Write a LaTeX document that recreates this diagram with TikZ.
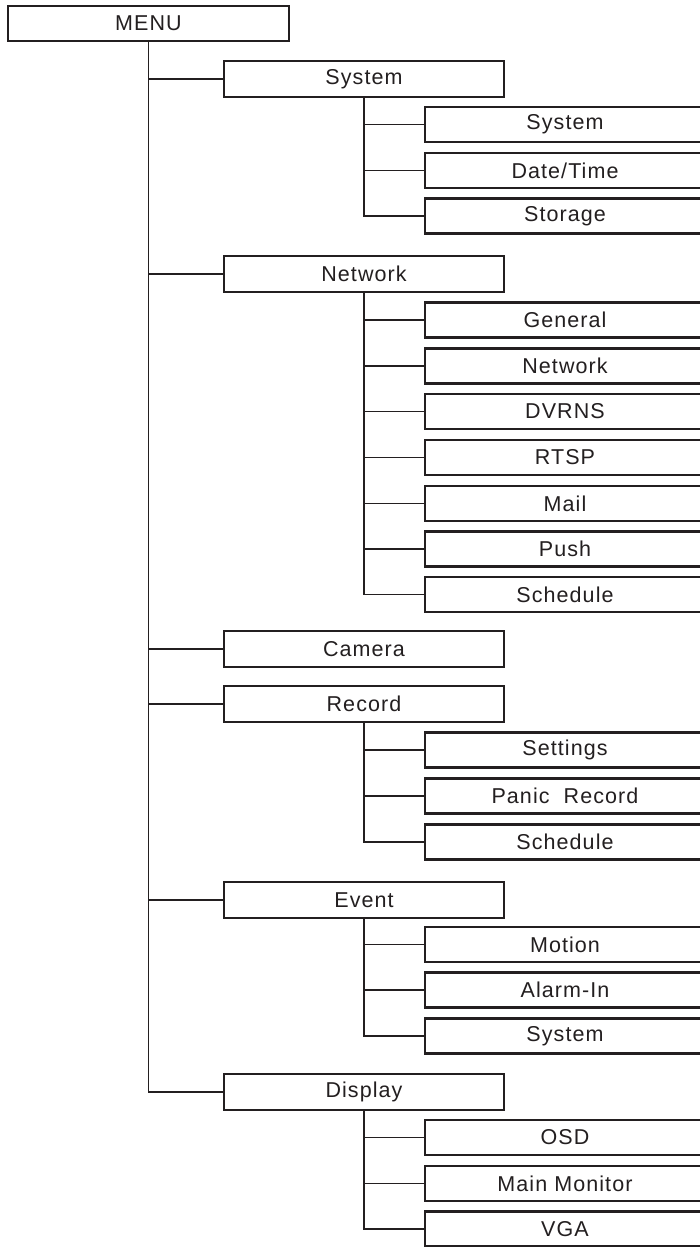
\documentclass[tikz,border=0pt]{standalone}
\usepackage{fontspec}
\setmainfont{Liberation Sans}[LetterSpace=5]
\definecolor{ink}{HTML}{231F20}
\begin{document}
\begin{tikzpicture}[x=1pt,y=-1pt,
  box/.style={draw=ink,line width=2.1pt,fill=white,inner sep=0pt,text=ink,
    font=\fontsize{21.5}{24}\selectfont,minimum width=280pt},
  lone/.style={box,minimum height=36pt},
  ltwo/.style={box,minimum height=35pt},
  link/.style={draw=ink,line width=1.9pt}]
\useasboundingbox (0,0) rectangle (700,1247);
\fill[white] (0,0) rectangle (700,1247);
\node[box,minimum height=35pt,minimum width=281pt] (menu) at (148.5,23.5) {MENU};
% level 1
\node[lone] (sys) at (364,79) {System};
\node[lone] (net) at (364,274) {Network};
\node[lone] (cam) at (364,649) {Camera};
\node[lone] (rec) at (364,704) {Record};
\node[lone] (evt) at (364,900) {Event};
\node[lone] (dsp) at (364,1092) {Display};
% level 2
\node[ltwo] (sysa) at (565,124.5) {System};
\node[ltwo] (sysb) at (565,170.5) {Date/Time};
\node[ltwo] (sysc) at (565,216) {Storage};
\node[ltwo] (neta) at (565,320) {General};
\node[ltwo] (netb) at (565,366) {Network};
\node[ltwo] (netc) at (565,411.5) {DVRNS};
\node[ltwo] (netd) at (565,457.5) {RTSP};
\node[ltwo] (nete) at (565,503.5) {Mail};
\node[ltwo] (netf) at (565,549) {Push};
\node[ltwo] (netg) at (565,594.5) {Schedule};
\node[ltwo] (reca) at (565,750) {Settings};
\node[ltwo] (recb) at (565,796) {Panic\ \ Record};
\node[ltwo] (recc) at (565,842) {Schedule};
\node[ltwo] (evta) at (565,944.5) {Motion};
\node[ltwo] (evtb) at (565,990) {Alarm-In};
\node[ltwo] (evtc) at (565,1036) {System};
\node[ltwo] (dspa) at (565,1137.5) {OSD};
\node[ltwo] (dspb) at (565,1183.5) {Main Monitor};
\node[ltwo] (dspc) at (565,1229) {VGA};
% main trunk
\draw[link] (menu.south) |- (dsp.west);
\foreach \n in {sys,net,cam,rec,evt}
  \draw[link] (menu.south |- \n.west) -- (\n.west);
% sub trunks
\draw[link] (sys.south) |- (sysc.west);
\foreach \n in {sysa,sysb}
  \draw[link] (sys.south |- \n.west) -- (\n.west);
\draw[link] (net.south) |- (netg.west);
\foreach \n in {neta,netb,netc,netd,nete,netf}
  \draw[link] (net.south |- \n.west) -- (\n.west);
\draw[link] (rec.south) |- (recc.west);
\foreach \n in {reca,recb}
  \draw[link] (rec.south |- \n.west) -- (\n.west);
\draw[link] (evt.south) |- (evtc.west);
\foreach \n in {evta,evtb}
  \draw[link] (evt.south |- \n.west) -- (\n.west);
\draw[link] (dsp.south) |- (dspc.west);
\foreach \n in {dspa,dspb}
  \draw[link] (dsp.south |- \n.west) -- (\n.west);
\end{tikzpicture}
\end{document}
